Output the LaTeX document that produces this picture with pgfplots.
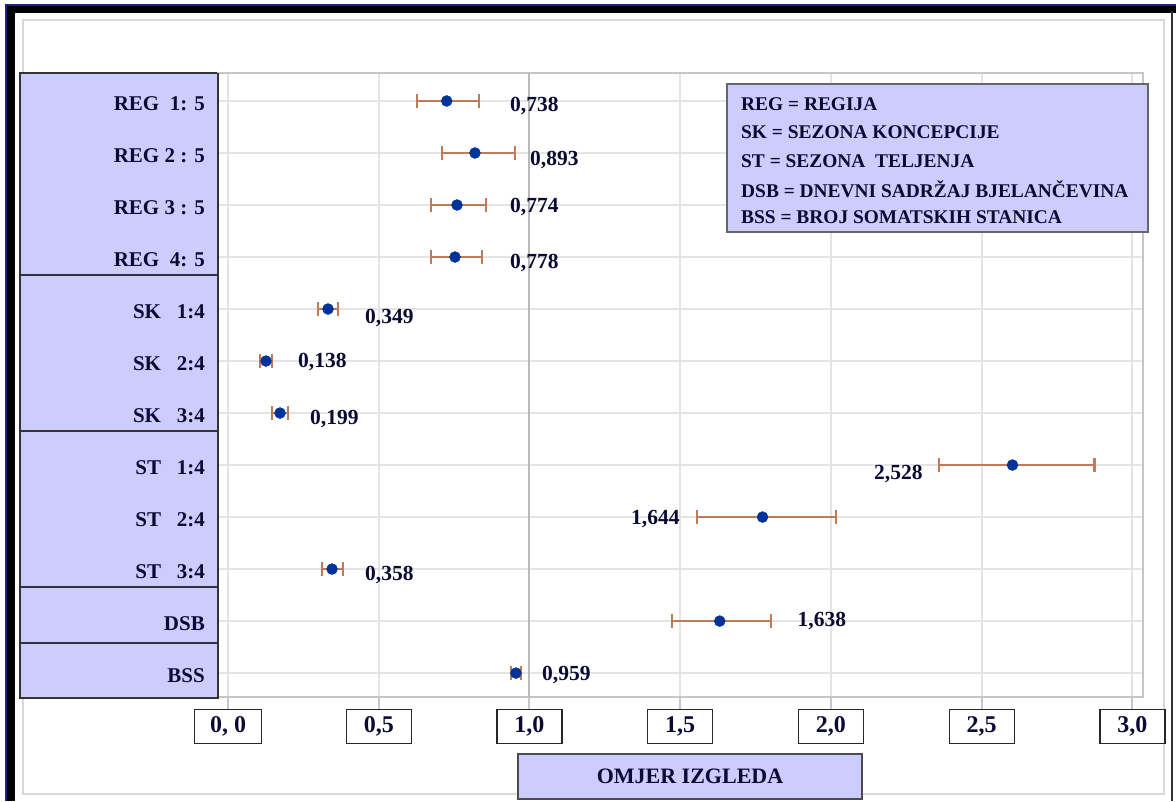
\documentclass[border=0pt]{standalone}
\usepackage{fontspec}
\setmainfont{Liberation Serif}
\usepackage{pgfplots}
\pgfplotsset{compat=1.18}
\usepackage{pgfplotstable}
\definecolor{lav}{RGB}{204,204,255}
\definecolor{ink}{RGB}{10,10,50}
\definecolor{dotblue}{RGB}{0,51,153}
\definecolor{barc}{RGB}{192,122,88}
\definecolor{gridc}{RGB}{228,228,228}
\definecolor{navyline}{RGB}{32,32,128}

% y = row (1 = top), x = plotted odds ratio, em/ep = distances to CI ends
\pgfplotstableread{
y x em ep
1 0.7254 0.0995 0.1071
2 0.8192 0.1104 0.1327
3 0.7595 0.0862 0.0962
4 0.7529 0.0796 0.0896
5 0.3317 0.0332 0.0331
6 0.1260 0.0200 0.0200
7 0.1725 0.0265 0.0265
8 2.6020 0.2450 0.2720
9 1.7730 0.2170 0.2430
10 0.3450 0.0330 0.0360
11 1.6310 0.1570 0.1710
12 0.9550 0.0160 0.0170
}\ortable

\begin{document}
\begin{tikzpicture}[x=1pt,y=1pt]
\useasboundingbox (0,0) rectangle (1176,801);
\fill[white] (0,0) rectangle (1176,801);
% outer frame
\draw[gray!30, line width=2] (23,7) rectangle (1164,781);
\fill[black] (7,0) rectangle (15,795);
\fill[black] (7,788) rectangle (1176,795);
\draw[navyline, line width=1.2] (6,0) -- (6,796) -- (1176,796);
\draw[black!80, line width=2.5] (1172,0) -- (1172,790);
% category boxes
\filldraw[fill=lav, draw=black!80, line width=1.2] (20,103) rectangle (218,728);
\foreach \yy in {526,370,214,158} {\draw[black!80, line width=1.2] (20,\yy) -- (218,\yy);}

\begin{axis}[
  at={(218pt,104pt)}, anchor=south west,
  scale only axis, width=925pt, height=624pt,
  xmin=-0.0332, xmax=3.035, ymin=0.462, ymax=12.46,
  y dir=reverse, clip=false,
  xtick={0,0.5,...,3},
  xticklabels={\makebox[60pt]{0, 0},0{,}5,1{,}0,1{,}5,2{,}0,2{,}5,3{,}0},
  xticklabel style={draw=black!85, fill=white, line width=1.2pt, minimum width=65pt,
     minimum height=34pt, anchor=north, font=\fontsize{24}{26}\selectfont\bfseries, text=ink},
  ytick={1,...,12},
  yticklabels={REG\ \ 1: 5, REG 2 : 5, REG 3 : 5, REG\ \ 4: 5,
               SK\ \ \ 1:4, SK\ \ \ 2:4, SK\ \ \ 3:4,
               ST\ \ \ 1:4, ST\ \ \ 2:4, ST\ \ \ 3:4, DSB, BSS},
  yticklabel style={anchor=east, inner sep=0pt, xshift=-1pt, yshift=-3pt,
     font=\fontsize{21}{23}\selectfont\bfseries, text=ink},
  xtick pos=bottom, ytick pos=left,
  major tick length=12pt, tick align=outside,
  xtick style={draw=gray!45, line width=2pt},
  ytick style={draw=none},
  grid=major, major grid style={gridc, line width=2pt},
  axis line style={draw=gray!45, line width=2pt},
]
\draw[gray!55, line width=2pt] (axis cs:1,0.462) -- (axis cs:1,12.46);
\addplot[only marks, mark=*, mark size=5.5pt, color=dotblue,
  error bars/.cd, x dir=both, x explicit, error mark=|,
  error bar style={barc, line width=2.2pt},
  error mark options={barc, line width=2.2pt, mark size=7pt}]
  table[x=x, y=y, x error plus=ep, x error minus=em]{\ortable};
\begin{scope}[every node/.style={anchor=west, inner sep=0pt, text=ink, font=\fontsize{21.5}{23}\selectfont\bfseries}]
\node at (axis cs:0.9353,1.096) {0,738};
\node at (axis cs:1.0017,2.135) {0,893};
\node at (axis cs:0.9353,3.038) {0,774};
\node at (axis cs:0.9353,4.115) {0,778};
\node at (axis cs:0.4544,5.173) {0,349};
\node at (axis cs:0.2322,6.019) {0,138};
\node at (axis cs:0.2720,7.115) {0,199};
\node at (axis cs:2.1426,8.173) {2,528};
\node at (axis cs:1.3367,9.038) {1,644};
\node at (axis cs:0.4544,10.115) {0,358};
\node at (axis cs:1.8889,11.000) {1,638};
\node at (axis cs:1.0415,12.038) {0,959};
\end{scope}
\end{axis}
\draw[black!80, line width=1.2] (218,103) -- (218,728);
% axis title
\node[draw=black!70, fill=lav, line width=1.2, minimum width=344, minimum height=45,
  text=ink, font=\fontsize{22}{24}\selectfont\bfseries] at (690,24.5) {OMJER IZGLEDA};
% key box
\filldraw[fill=lav, draw=black!60, line width=1.2] (727,569) rectangle (1148,717);
\begin{scope}[every node/.style={anchor=west, inner sep=0pt, text=ink, font=\fontsize{19.4}{21}\selectfont\bfseries}]
\node at (741,696.5) {REG = REGIJA};
\node at (741,668.5) {SK = SEZONA KONCEPCIJE};
\node at (741,640) {ST = SEZONA\ \ TELJENJA};
\node at (741,612) {DSB = DNEVNI SADRŽAJ BJELANČEVINA};
\node at (741,583.5) {BSS = BROJ SOMATSKIH STANICA};
\end{scope}
\end{tikzpicture}
\end{document}
